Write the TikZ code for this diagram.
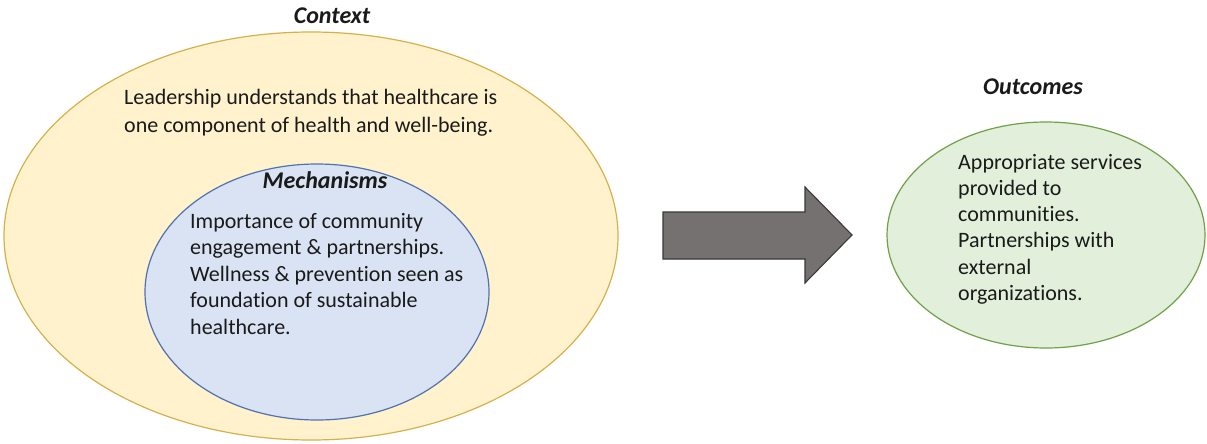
\documentclass[tikz,border=0pt]{standalone}
\usepackage{fontspec}
\setmainfont{Carlito}[Ligatures={NoCommon}]
\usetikzlibrary{shapes.geometric}
\definecolor{ctxfill}{HTML}{FFF2CC}
\definecolor{ctxline}{HTML}{D6B04A}
\definecolor{mechfill}{HTML}{DAE3F3}
\definecolor{mechline}{HTML}{4F72B0}
\definecolor{outfill}{HTML}{E2EFDA}
\definecolor{outline}{HTML}{70A048}
\definecolor{arrfill}{HTML}{767171}
\definecolor{arrline}{HTML}{3A3838}
\definecolor{txt}{HTML}{1A1A1A}
\tikzset{
  oval/.style={ellipse, draw, line width=1.2pt, inner sep=0pt},
  title/.style={font=\fontsize{24}{28}\selectfont\bfseries\itshape, text=txt, inner sep=0pt, anchor=base},
  body/.style={font=\fontsize{22}{26.5}\selectfont, text=txt, align=left, inner sep=0pt, anchor=base west},
}
\begin{document}
\begin{tikzpicture}[x=1pt,y=-1pt]
\useasboundingbox (0,0) rectangle (1207,444);
\fill[white] (0,0) rectangle (1207,444);
\node[oval, fill=ctxfill, draw=ctxline, minimum width=614, minimum height=408] (ctx) at (311,236) {};
\node[oval, fill=mechfill, draw=mechline, minimum width=344, minimum height=256] (mech) at (317,292) {};
\node[oval, fill=outfill, draw=outline, minimum width=318, minimum height=226] (out) at (1046,235) {};
\node[title] (ctxt) at (332,24) {Context};
\node[title] (mecht) at (325,188) {Mechanisms};
\node[title] (outt) at (1033,95) {Outcomes};
% anchor base = baseline of the last line
\node[body, font=\fontsize{22}{28}\selectfont] (ctxb) at (124,132) {Leadership understands that healthcare is\\one component of health and well-being.};
\node[body] (mechb) at (190,334) {Importance of community\\engagement \& partnerships.\\Wellness \& prevention seen as\\foundation of sustainable\\healthcare.};
\node[body, font=\fontsize{22}{26.3}\selectfont] (outb) at (958,300.5) {Appropriate services\\provided to\\communities.\\Partnerships with\\external\\organizations.};
\draw[fill=arrfill, draw=arrline, line width=1.1pt, line join=miter]
  (663,212) -- (805,212) -- (805,187) -- (852,235) -- (805,283) -- (805,259) -- (663,259) -- cycle;
\end{tikzpicture}
\end{document}
